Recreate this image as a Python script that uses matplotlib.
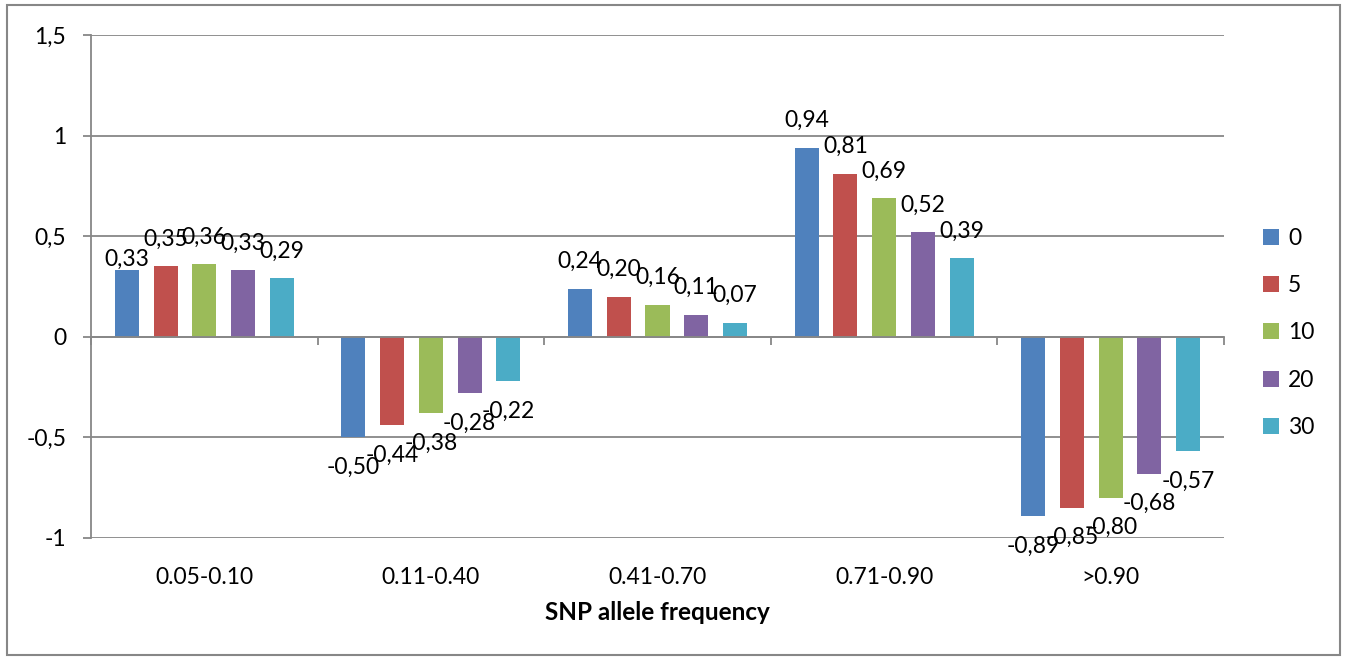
import matplotlib
matplotlib.use("Agg")
import matplotlib.pyplot as plt
from matplotlib.patches import Rectangle
from matplotlib.transforms import blended_transform_factory
import numpy as np

plt.rcParams['font.family'] = ['Lato', 'DejaVu Sans']

categories = ["0.05-0.10", "0.11-0.40", "0.41-0.70", "0.71-0.90", ">0.90"]
series_names = ["0", "5", "10", "20", "30"]
values_0 = [0.33, -0.50, 0.24, 0.94, -0.89]
values_5 = [0.35, -0.44, 0.20, 0.81, -0.85]
values_10 = [0.36, -0.38, 0.16, 0.69, -0.80]
values_20 = [0.33, -0.28, 0.11, 0.52, -0.68]
values_30 = [0.29, -0.22, 0.07, 0.39, -0.57]
series_values = [values_0, values_5, values_10, values_20, values_30]
colors = ["#4F81BD", "#C0504D", "#9BBB59", "#8064A2", "#4BACC6"]
y_ticks = [-1, -0.5, 0, 0.5, 1, 1.5]

grid_col = "#878787"
fs = 16.5

fig = plt.figure(figsize=(13.47, 6.60), dpi=100)
ax = fig.add_axes([91 / 1347, 1 - 538 / 660, (1224 - 91) / 1347, (538 - 35) / 660])

x = np.arange(len(categories))
n = len(series_names)
pitch = 0.171
width = 0.106

def fmt(v):
    return f"{v:.2f}".replace(".", ",")

for i, (name, vals, col) in enumerate(zip(series_names, series_values, colors)):
    pos = x + (i - (n - 1) / 2) * pitch
    ax.bar(pos, vals, width=width, color=col, label=name, zorder=3)
    for j, (px, v) in enumerate(zip(pos, vals)):
        dy = 27 if v >= 0 else -30
        if i == 0 and j == 0:
            dy = 11
        ax.annotate(fmt(v), (px, v), xytext=(0, dy), textcoords='offset pixels',
                    ha='center', va='center', fontsize=fs, color='black', zorder=5)

ax.set_xlim(-0.5, len(categories) - 0.5)
ax.set_ylim(-1, 1.5)

# horizontal gridlines
ax.set_yticks(y_ticks)
ax.set_yticklabels([("%g" % t).replace(".", ",") for t in y_ticks], fontsize=fs)
ax.yaxis.grid(True, color=grid_col, linewidth=1.3, zorder=0)
ax.tick_params(axis='y', direction='out', length=5.8, width=1.3, color=grid_col, pad=12)

# category axis drawn along zero with separator ticks
for s in ['top', 'right']:
    ax.spines[s].set_visible(False)
ax.spines['left'].set_color(grid_col)
ax.spines['left'].set_linewidth(1.3)
ax.spines['bottom'].set_position(('data', 0))
ax.spines['bottom'].set_color(grid_col)
ax.spines['bottom'].set_linewidth(1.3)
ax.spines['bottom'].set_zorder(4)
ax.set_xticks(np.arange(len(categories) + 1) - 0.5)
ax.set_xticklabels([])
ax.tick_params(axis='x', direction='out', length=5.8, width=1.3, color=grid_col)

trans = blended_transform_factory(ax.transData, ax.transAxes)
for xi, cat in zip(x, categories):
    ax.annotate(cat, (xi, 0), xycoords=trans, xytext=(0, -39), textcoords='offset pixels',
                ha='center', va='center', fontsize=fs)

ax.annotate("SNP allele frequency", (0.5, 0), xycoords='axes fraction', xytext=(0, -75),
            textcoords='offset pixels', ha='center', va='center', fontsize=17.5,
            fontweight='bold')

leg = fig.legend(loc='center left', bbox_to_anchor=(1263 / 1347, 1 - 333 / 660), frameon=False,
                 fontsize=fs, handlelength=0.7, handleheight=0.7, handletextpad=0.4,
                 labelspacing=1.15, borderpad=0, borderaxespad=0)

fig.patches.append(Rectangle((7 / 1347, 5 / 660), (1340 - 7) / 1347, (655 - 5) / 660,
                             transform=fig.transFigure, fill=False, edgecolor=grid_col,
                             linewidth=1.5))

fig.savefig("out.png", dpi=100, facecolor='white')
